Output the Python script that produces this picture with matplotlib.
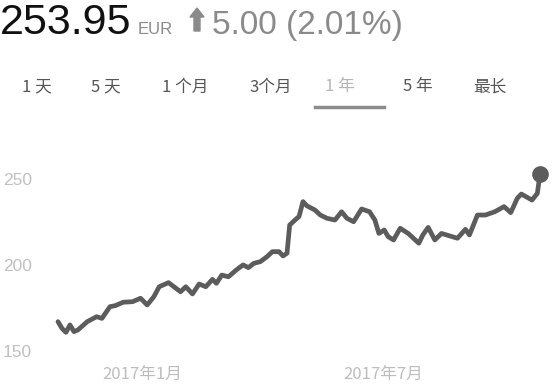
import pandas as pd
import matplotlib.pyplot as plt
import matplotlib.dates as mdates
import matplotlib.transforms as mtrans
from matplotlib.patches import Polygon

plt.rcParams['font.family'] = ['Noto Sans CJK SC', 'DejaVu Sans']

dates = ['2016-10-30', '2016-11-02', '2016-11-05', '2016-11-08', '2016-11-11', '2016-11-14',
         '2016-11-21', '2016-11-28', '2016-12-02', '2016-12-08', '2016-12-12', '2016-12-18',
         '2016-12-25', '2016-12-31', '2017-01-05', '2017-01-10', '2017-01-14', '2017-01-21',
         '2017-01-30', '2017-02-03', '2017-02-08', '2017-02-13', '2017-02-18', '2017-02-23',
         '2017-02-26', '2017-03-02', '2017-03-07', '2017-03-13', '2017-03-18', '2017-03-22',
         '2017-03-26', '2017-03-31', '2017-04-05', '2017-04-09', '2017-04-14', '2017-04-17',
         '2017-04-20', '2017-04-22', '2017-04-26', '2017-04-29', '2017-05-02', '2017-05-05',
         '2017-05-11', '2017-05-15', '2017-05-20', '2017-05-26', '2017-05-31', '2017-06-04',
         '2017-06-09', '2017-06-15', '2017-06-21', '2017-06-25', '2017-06-28', '2017-07-02',
         '2017-07-05', '2017-07-09', '2017-07-14', '2017-07-20', '2017-07-28', '2017-07-31',
         '2017-08-04', '2017-08-09', '2017-08-14', '2017-08-26', '2017-09-01', '2017-09-04',
         '2017-09-10', '2017-09-16', '2017-09-23', '2017-09-30', '2017-10-05', '2017-10-10',
         '2017-10-13', '2017-10-21', '2017-10-25', '2017-10-27']
prices = [168.2, 164.3, 162.0, 166.3, 162.4, 163.4,
          168.2, 171.1, 170.1, 176.9, 177.5, 179.5,
          179.8, 181.8, 177.9, 182.7, 188.5, 190.9,
          185.6, 188.5, 184.3, 190.1, 188.5, 192.8,
          190.5, 195.3, 194.3, 198.3, 201.2, 199.6,
          202.1, 203.1, 206.0, 208.9, 208.9, 206.4,
          208.0, 224.4, 227.3, 229.3, 238.0, 235.5,
          233.1, 230.2, 228.3, 227.3, 232.1, 228.3,
          226.3, 233.7, 232.1, 227.3, 219.5, 221.5,
          217.6, 215.7, 222.5, 219.5, 213.8, 218.6,
          223.0, 215.7, 219.5, 216.7, 221.9, 218.6,
          230.2, 230.2, 232.1, 235.1, 231.6, 240.0,
          242.4, 238.9, 242.8, 253.95]

yticks = [150, 200, 250]
xticks = ['2017-01-01', '2017-07-01']
xtick_labels = ['2017年1月', '2017年7月']
tabs = ['1 天', '5 天', '1 个月', '3个月', '1 年', '5 年', '最长']
tab_x = [37, 106, 185, 271, 340, 418, 490]

W, H = 555, 384
fig = plt.figure(figsize=(W / 100, H / 100), dpi=100)

def px(x, y):
    return x / W, 1 - y / H

# header
fig.text(*px(0, 34), '253.95', fontsize=31, color='#111111',
         family='Liberation Sans', va='baseline')
fig.text(*px(138, 34), 'EUR', fontsize=12, color='#8a8a8a',
         family='Liberation Sans', va='baseline')
fig.text(*px(212, 34), '5.00 (2.01%)', fontsize=24, color='#8a8a8a',
         family='Liberation Sans', va='baseline')
arrow = [px(197, 8), px(204, 17), px(200, 17), px(200, 31),
         px(194, 31), px(194, 17), px(190, 17)]
fig.patches.append(Polygon(arrow, closed=True, transform=fig.transFigure,
                           color='#8a8a8a'))

# tabs
for lab, x in zip(tabs, tab_x):
    c = '#b5b5b5' if lab == '1 年' else '#555555'
    fig.text(*px(x, 87), lab, fontsize=12, color=c, ha='center', va='center',
             fontweight='light')
fig.add_artist(plt.Line2D([315 / W, 384 / W], [1 - 107 / H, 1 - 107 / H],
                          color='#8c8c8c', lw=2.5, transform=fig.transFigure))

# chart
ax = fig.add_axes([50 / W, 1 - 360 / H, 498 / W, 200 / H])
d = pd.to_datetime(dates)
ax.plot(d, prices, color='#5c5c5c', lw=3.4, solid_joinstyle='round',
        solid_capstyle='round')
ax.plot(d[-1:], prices[-1:], 'o', color='#5c5c5c', ms=11)
ax.set_xlim(pd.Timestamp('2016-10-24'), pd.Timestamp('2017-11-02'))
ax.set_ylim(145.9, 262.2)
ax.axis('off')

ytrans = mtrans.blended_transform_factory(fig.transFigure, ax.transData)
for v in yticks:
    ax.text(3 / W, v, str(v), transform=ytrans, fontsize=12.5, color='#c0c0c0',
            family='Liberation Sans', va='center', ha='left')
xtrans = mtrans.blended_transform_factory(ax.transData, fig.transFigure)
for t, lab in zip(xticks, xtick_labels):
    ax.text(mdates.date2num(pd.Timestamp(t)), 1 - 374 / H, lab, transform=xtrans,
            fontsize=12, color='#bdbdbd', ha='center', va='center')

fig.savefig('out.png', dpi=100, facecolor='white')
